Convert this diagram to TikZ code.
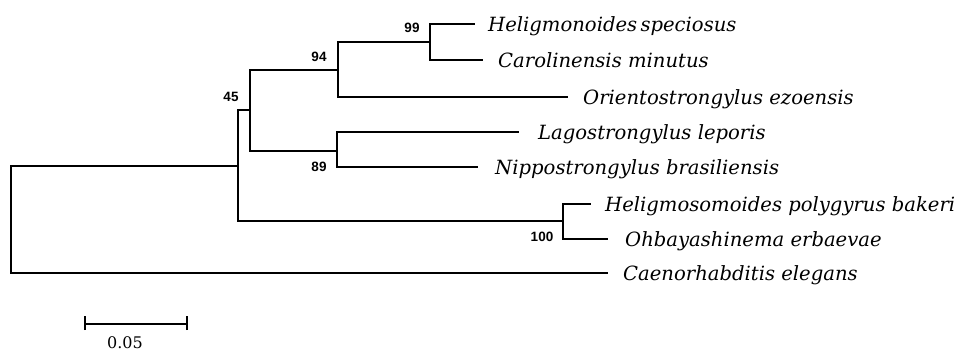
\documentclass[tikz,border=0pt]{standalone}
\usepackage{fontspec}
\newfontfamily\labfont{Liberation Sans}
\newfontfamily\taxfont{DejaVu Serif}
\begin{document}
\begin{tikzpicture}[x=1pt,y=-1pt,
  br/.style={line width=1.6pt,line cap=rect,line join=miter},
  taxon/.style={anchor=base west,inner sep=0pt,font=\taxfont\itshape\fontsize{19.6}{19.6}\selectfont},
  boot/.style={inner sep=0pt,font=\labfont\bfseries\fontsize{13.5}{13.5}\selectfont}]
\useasboundingbox (0,0) rectangle (960,351);
% internal nodes
\coordinate (root) at (11,219);
\coordinate (A) at (238,166);
\coordinate (B) at (250,110);
\coordinate (C) at (338,70);
\coordinate (D) at (430,42);
\coordinate (E) at (337,151);
\coordinate (F) at (563,221);
% leaf tips
\coordinate (t1) at (474,24);
\coordinate (t2) at (482,60);
\coordinate (t3) at (567,97);
\coordinate (t4) at (518,132);
\coordinate (t5) at (477,167);
\coordinate (t6) at (590,204);
\coordinate (t7) at (607,239);
\coordinate (t8) at (607,273);
% branches
\draw[br] (root) |- (A);
\draw[br] (root) |- (t8);
\draw[br] (A) |- (B);
\draw[br] (A) |- (F);
\draw[br] (B) |- (C);
\draw[br] (B) |- (E);
\draw[br] (C) |- (D);
\draw[br] (C) |- (t3);
\draw[br] (D) |- (t1);
\draw[br] (D) |- (t2);
\draw[br] (E) |- (t4);
\draw[br] (E) |- (t5);
\draw[br] (F) |- (t6);
\draw[br] (F) |- (t7);
% taxa
\node[taxon] (n1) at (488,31) {Heligmonoides\,speciosus};
\node[taxon] (n2) at (498,67) {Carolinensis minutus};
\node[taxon] (n3) at (583,104) {Orientostrongylus ezoensis};
\node[taxon] (n4) at (538,139) {Lagostrongylus leporis};
\node[taxon] (n5) at (495,174) {Nippostrongylus brasiliensis};
\node[taxon] (n6) at (605,211) {Heligmosomoides polygyrus bakeri};
\node[taxon] (n7) at (625,246) {Ohbayashinema erbaevae};
\node[taxon] (n8) at (623,280) {Caenorhabditis elegans};
% bootstrap values
\node[boot] (b99) at (412,28) {99};
\node[boot] (b94) at (319,57) {94};
\node[boot] (b45) at (231,97) {45};
\node[boot] (b89) at (319,167) {89};
\node[boot] (b100) at (542,237) {100};
% scale bar
\coordinate (s1) at (85,324);
\coordinate (s2) at (187,324);
\draw[line width=1.3pt] (s1) -- (s2);
\draw[line width=1.3pt] ([yshift=-6]s1) -- ([yshift=8]s1);
\draw[line width=1.3pt] ([yshift=-6]s2) -- ([yshift=8]s2);
\node[inner sep=0pt,font=\taxfont\fontsize{16}{16}\selectfont] (sl) at (125,343) {0.05};
\end{tikzpicture}
\end{document}
